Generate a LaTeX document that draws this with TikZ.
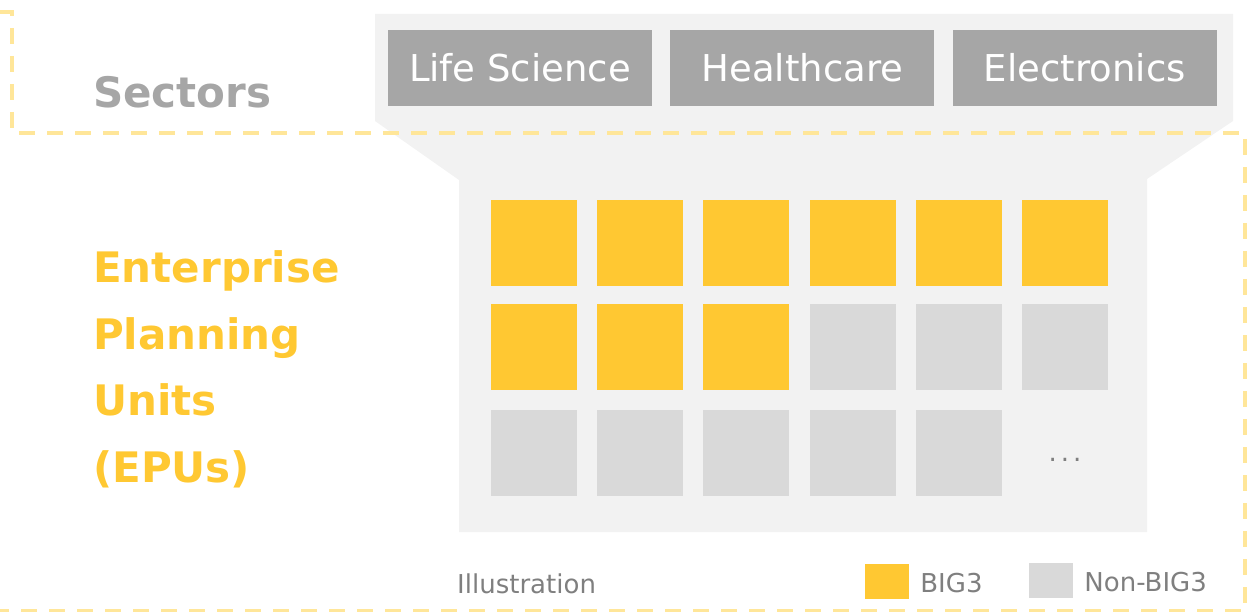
\documentclass[tikz,border=0pt]{standalone}
\usepackage{fontspec}
\setmainfont{DejaVu Sans}
\usetikzlibrary{positioning}
\definecolor{big3}{HTML}{FFC832}
\definecolor{nonbig3}{HTML}{D9D9D9}
\definecolor{sectorgray}{HTML}{A6A6A6}
\definecolor{panelgray}{HTML}{F2F2F2}
\definecolor{dashyellow}{HTML}{FFE699}
\definecolor{textgray}{HTML}{7F7F7F}

\begin{document}
\begin{tikzpicture}[x=1pt,y=-1pt,
	sector/.style={fill=sectorgray,text=white,minimum width=264pt,minimum height=76pt,inner sep=0pt,font=\fontsize{37}{44}\selectfont},
	unit/.style={minimum size=86pt,inner sep=0pt},
	legendbox/.style={minimum width=44pt,minimum height=35pt,inner sep=0pt},
	legendtext/.style={inner sep=0pt,text=textgray,text height=22pt,text depth=0pt,font=\fontsize{26}{30}\selectfont}]
		
		\useasboundingbox (0,0) rectangle (1255,612);
		
		\fill[panelgray] (375,14) -- (1233,14) -- (1233,121) -- (1147,179) -- (1147,532) -- (459,532) -- (459,180) -- (375,121) -- cycle;
		\draw[dashyellow,line width=4pt,dash pattern=on 16pt off 12pt] (0,12) -- (12,12) -- (12,133) -- (1245,133) -- (1245,611) -- (0,611);
		
		\node[sector] (life) at (520,68) {Life Science};
		\node[sector,right=18pt of life] (health) {Healthcare};
		\node[sector,right=18pt of health] (elec) {Electronics};
		\node[anchor=base west,inner sep=0pt,text=sectorgray,font=\bfseries\fontsize{42}{50}\selectfont] (sectors) at (93,108) {Sectors};
		
		\node[anchor=base west,inner sep=0pt,align=left,text=big3,font=\bfseries\fontsize{42}{66.5}\selectfont] (epu) at (93,482) {Enterprise\\Planning\\Units\\(EPUs)};
		
		\foreach \r/\y in {1/243,2/347,3/453}
		\foreach \c in {1,...,6}{
			\pgfmathtruncatemacro{\n}{(\r-1)*6+\c}
			\ifnum\n<10 \def\ucol{big3}\else\def\ucol{nonbig3}\fi
			\ifnum\n<18
			\node[unit,fill=\ucol] (u\r\c) at ({534+106.2*(\c-1)},\y) {};
			\fi
		}
		\node[text=textgray,font=\fontsize{26}{30}\selectfont,yshift=-7pt] (more) at (u26 |- u35) {.\kern4pt.\kern4pt.};
		
		\node[legendtext,anchor=base west] (illus) at (457,593) {Illustration};
		\node[legendbox,fill=big3] (kbig) at (887,581.5) {};
		\node[legendtext,right=11pt of kbig] (tbig) {BIG3};
		\node[legendbox,fill=nonbig3] (knon) at (1051,580.5) {};
		\node[legendtext,right=11pt of knon] (tnon) {Non-BIG3};
		
		\end{tikzpicture}
\end{document}
